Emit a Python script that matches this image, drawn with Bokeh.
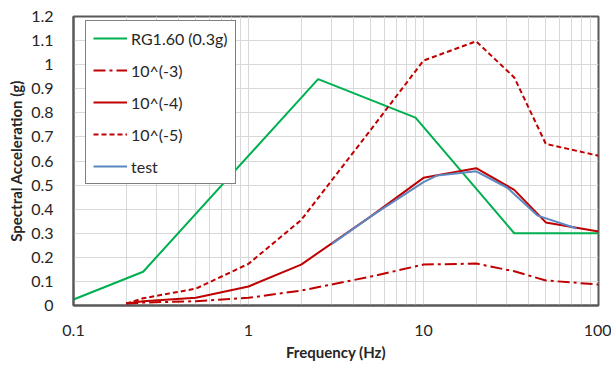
from bokeh.plotting import figure
from bokeh.models import FixedTicker, CustomJSTickFormatter, Legend, LegendItem
from bokeh.embed import file_html
from bokeh.resources import INLINE

# Data
rg_f = [0.1, 0.25, 2.5, 9, 33, 100]
rg_a = [0.025, 0.14, 0.94, 0.78, 0.30, 0.30]

f_std = [0.2, 0.25, 0.5, 1, 2, 5, 10, 20, 33, 50, 100]
e3_a = [0.007, 0.012, 0.018, 0.032, 0.062, 0.12, 0.17, 0.174, 0.142, 0.104, 0.087]
e4_a = [0.008, 0.018, 0.032, 0.079, 0.17, 0.37, 0.53, 0.57, 0.48, 0.345, 0.307]
e5_a = [0.008, 0.03, 0.07, 0.173, 0.355, 0.73, 1.017, 1.097, 0.947, 0.671, 0.622]

test_f = [3, 5, 10, 12, 20, 30, 45, 75]
test_a = [0.256, 0.37, 0.512, 0.54, 0.557, 0.49, 0.373, 0.32]

x_ticks = [0.1, 1, 10, 100]
y_ticks = [0, 0.1, 0.2, 0.3, 0.4, 0.5, 0.6, 0.7, 0.8, 0.9, 1.0, 1.1, 1.2]

FONT = "Lato"

p = figure(width=611, height=368, x_axis_type="log", x_range=(0.1, 100), y_range=(0, 1.2),
           output_backend="svg", toolbar_location=None,
           min_border_left=73, min_border_right=13, min_border_top=16, min_border_bottom=63)

minor = []
for dec in [0.1, 1, 10]:
    for k in range(2, 10):
        minor.append(dec * k)

p.xaxis.ticker = FixedTicker(ticks=x_ticks, minor_ticks=minor)
p.yaxis.ticker = FixedTicker(ticks=y_ticks)
p.xaxis.formatter = CustomJSTickFormatter(code="return tick < 1 ? tick.toFixed(1) : tick.toFixed(0);")
p.yaxis.formatter = CustomJSTickFormatter(code="var s = tick.toFixed(1); return s.replace(/\\.0$/, '');")

for ax in (p.xaxis, p.yaxis):
    ax.major_tick_line_color = None
    ax.minor_tick_line_color = None
    ax.axis_line_color = "#595959"
    ax.axis_line_width = 2
    ax.major_label_text_font = FONT
    ax.major_label_text_font_size = "16px"
    ax.major_label_text_color = "#262626"
    ax.axis_label_text_font = FONT
    ax.axis_label_text_font_size = "15px"
    ax.axis_label_text_font_style = "bold"
    ax.axis_label_text_color = "#262626"

p.xaxis.major_label_standoff = 13
p.yaxis.major_label_standoff = 14
p.xaxis.axis_label = "Frequency (Hz)"
p.yaxis.axis_label = "Spectral Acceleration (g)"
p.xaxis.axis_label_standoff = 4
p.yaxis.axis_label_standoff = 3

p.xgrid.grid_line_color = "#D9D9D9"
p.xgrid.minor_grid_line_color = "#D9D9D9"
p.ygrid.grid_line_color = "#D9D9D9"
p.outline_line_color = "#595959"
p.outline_line_width = 2

r1 = p.line(rg_f, rg_a, line_color="#00B050", line_width=2)
r2 = p.line(f_std, e3_a, line_color="#C00000", line_width=2, line_dash="12 4 3 4")
r3 = p.line(f_std, e4_a, line_color="#C00000", line_width=2)
r4 = p.line(f_std, e5_a, line_color="#C00000", line_width=2, line_dash="5 3")
r5 = p.line(test_f, test_a, line_color="#5B87C2", line_width=2)

legend = Legend(items=[
    LegendItem(label="RG1.60 (0.3g)", renderers=[r1]),
    LegendItem(label="10^(-3)", renderers=[r2]),
    LegendItem(label="10^(-4)", renderers=[r3]),
    LegendItem(label="10^(-5)", renderers=[r4]),
    LegendItem(label="test", renderers=[r5]),
], location=(12, 121))
legend.border_line_color = "black"
legend.border_line_width = 1.5
legend.background_fill_alpha = 1
legend.padding = 7
legend.margin = 0
legend.spacing = 12
legend.glyph_height = 20
legend.glyph_width = 34
legend.label_height = 20
legend.label_standoff = 4
legend.label_text_font = FONT
legend.label_text_font_size = "16px"
legend.label_text_color = "#262626"
p.add_layout(legend, "center")

open("out.html", "w").write(file_html(p, INLINE))
